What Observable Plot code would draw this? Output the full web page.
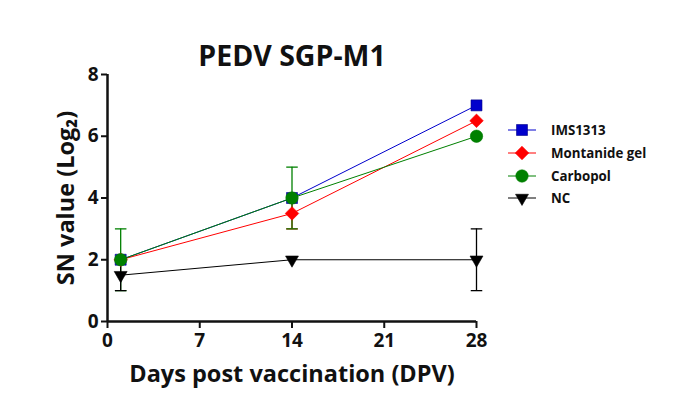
<!DOCTYPE html>
<html>
<head>
<meta charset="utf-8">
<script src="https://cdn.jsdelivr.net/npm/d3@7"></script>
<script src="https://cdn.jsdelivr.net/npm/@observablehq/plot@0.6"></script>
<style>
  html, body { margin: 0; padding: 0; background: #fff; }
  #wrap { position: relative; width: 688px; height: 415px; font-family: "Open Sans", sans-serif; }
  #legend { position: absolute; left: 505px; top: 119px; }
  .row { display: flex; align-items: center; height: 22.7px; }
  .row span { font-weight: 700; font-size: 13.3px; margin-left: 12px; color: #111; }
</style>
</head>
<body>
<div id="wrap"></div>
<script>
const days = [1, 14, 28];
const xTicks = [0, 7, 14, 21, 28];
const yTicks = [0, 2, 4, 6, 8];
const groups = ["IMS1313", "Montanide gel", "Carbopol", "NC"];
const colors = ["#0000cc", "#ff0000", "#008000", "#000000"];
const ims1313 = [2, 4, 7];
const montanide = [2, 3.5, 6.5];
const carbopol = [2, 4, 6];
const nc = [1.5, 2, 2];
const ims1313Err = [0, 0, 0];
const montanideErr = [0, 0.5, 0];
const carbopolErr = [1, 1, 0];
const ncErr = [0.5, 0, 1];

const values = [ims1313, montanide, carbopol, nc];
const errs = [ims1313Err, montanideErr, carbopolErr, ncErr];
const symbolNames = ["square", "square", "circle", "triangle"];
const rotations = [0, 45, 0, 180];
const radii = [6.2, 5.4, 6.2, 4.8];

const rows = [];
groups.forEach((g, gi) => days.forEach((d, i) => rows.push({
  group: g, gi, day: d, value: values[gi][i], err: errs[gi][i],
  lo: values[gi][i] - errs[gi][i], hi: values[gi][i] + errs[gi][i]
})));
const errRows = rows.filter(r => r.err > 0);

const capSymbol = {
  draw(context, size) {
    const w = Math.sqrt(size) / 2;
    context.moveTo(-w, 0);
    context.lineTo(w, 0);
  }
};

const marks = [
  Plot.axisX({ticks: xTicks, tickSize: 7, tickPadding: 5, fontSize: 19, label: null, strokeWidth: 2}),
  Plot.axisY({ticks: yTicks, tickSize: 6, tickPadding: 3, fontSize: 19, label: null, strokeWidth: 2}),
  Plot.ruleX([0], {y1: 0, y2: 8, strokeWidth: 2.5}),
  Plot.ruleY([0], {x1: 0, x2: 28, strokeWidth: 2.5}),
];
groups.forEach((g, gi) => {
  const data = rows.filter(r => r.gi === gi);
  const eData = errRows.filter(r => r.gi === gi);
  marks.push(
    Plot.line(data, {x: "day", y: "value", stroke: colors[gi], strokeWidth: 1}),
    Plot.ruleX(eData, {x: "day", y1: "lo", y2: "hi", stroke: colors[gi], strokeWidth: 1.3}),
    Plot.dot(eData, {x: "day", y: "lo", symbol: capSymbol, r: 6.5, stroke: colors[gi], strokeWidth: 1.3}),
    Plot.dot(eData, {x: "day", y: "hi", symbol: capSymbol, r: 6.5, stroke: colors[gi], strokeWidth: 1.3})
  );
});
groups.forEach((g, gi) => {
  const data = rows.filter(r => r.gi === gi);
  marks.push(Plot.dot(data, {x: "day", y: "value", symbol: symbolNames[gi], rotate: rotations[gi], r: radii[gi], fill: colors[gi], stroke: gi === 0 ? "#000088" : colors[gi], strokeWidth: 0.6}));
});
marks.push(
  Plot.text(["PEDV SGP-M1"], {frameAnchor: "top", dy: -29, fontSize: 28.5, fontWeight: 700, textAnchor: "middle", fill: "#111"}),
  Plot.text(["SN value (Log₂)"], {frameAnchor: "left", dx: -41, rotate: -90, fontSize: 23.5, fontWeight: 700, textAnchor: "middle", fill: "#111"}),
  Plot.text(["Days post vaccination (DPV)"], {frameAnchor: "bottom", dy: 60, fontSize: 23.5, fontWeight: 700, textAnchor: "middle", fill: "#111"})
);

const chart = Plot.plot({
  width: 688, height: 415,
  marginLeft: 107, marginRight: 212, marginTop: 74, marginBottom: 94,
  x: {domain: [0, 28]},
  y: {domain: [0, 8]},
  style: {fontFamily: "Open Sans, sans-serif", fontWeight: 700, color: "#111", background: "#fff"},
  marks
});
const wrap = document.getElementById("wrap");
wrap.appendChild(chart);

// legend
const legend = document.createElement("div");
legend.id = "legend";
groups.forEach((g, gi) => {
  const row = document.createElement("div");
  row.className = "row";
  const svg = d3.create("svg").attr("width", 34).attr("height", 18);
  svg.append("line").attr("x1", 3).attr("x2", 31).attr("y1", 9).attr("y2", 9).attr("stroke", colors[gi]).attr("stroke-width", 1);
  const sym = {square: d3.symbolSquare, circle: d3.symbolCircle, triangle: d3.symbolTriangle}[symbolNames[gi]];
  svg.append("path").attr("d", d3.symbol(sym, Math.PI * radii[gi] * radii[gi])())
    .attr("transform", `translate(17,9) rotate(${rotations[gi]})`)
    .attr("fill", colors[gi]).attr("stroke", gi === 0 ? "#000088" : colors[gi]).attr("stroke-width", 0.6);
  row.appendChild(svg.node());
  const s = document.createElement("span");
  s.textContent = g;
  row.appendChild(s);
  legend.appendChild(row);
});
wrap.appendChild(legend);
</script>
</body>
</html>
